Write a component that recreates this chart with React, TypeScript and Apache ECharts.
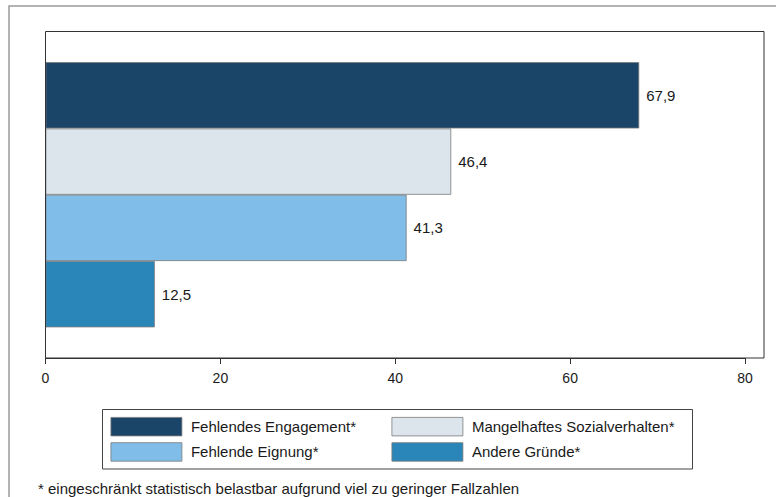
import React, { useEffect, useRef } from "react";
import * as echarts from "echarts";

const seriesNames = [
  "Fehlendes Engagement*",
  "Mangelhaftes Sozialverhalten*",
  "Fehlende Eignung*",
  "Andere Gründe*",
];
const seriesValues = [67.9, 46.4, 41.3, 12.5];
const seriesColors = ["#1b4469", "#dce5ec", "#80bde8", "#2a86b9"];
const xTicks = [0, 20, 40, 60, 80];
const footnote = "* eingeschränkt statistisch belastbar aufgrund viel zu geringer Fallzahlen";

const FONT = "'Liberation Sans', Arial, Helvetica, sans-serif";

export default function App() {
  const ref = useRef<HTMLDivElement>(null);
  useEffect(() => {
    if (!ref.current) return;
    const chart = echarts.init(ref.current, undefined, { renderer: "svg" });
    const series = seriesNames.map((name, i) => ({
      name,
      type: "bar",
      data: [seriesValues[i]],
      barWidth: 66.3,
      barGap: "0%",
      itemStyle: { color: seriesColors[i], borderColor: "#7a7a7a", borderWidth: 0.8 },
      label: {
        show: true,
        position: "right",
        distance: 7,
        fontSize: 15,
        fontFamily: FONT,
        color: "#1a1a1a",
        formatter: (p: any) => String(p.value).replace(".", ","),
      },
    }));
    const legendCommon = {
      orient: "vertical",
      top: 417,
      padding: 0,
      itemWidth: 71,
      itemHeight: 18.5,
      itemGap: 6,
      icon: "rect",
      selectedMode: false,
      itemStyle: { borderColor: "#7a7a7a", borderWidth: 0.8 },
      textStyle: { fontSize: 15, color: "#1a1a1a", fontFamily: FONT, padding: [0, 0, 0, 4] },
    };
    chart.setOption({
      animation: false,
      textStyle: { fontFamily: FONT },
      grid: { left: 45.5, right: 31, top: 31.5, bottom: 139, containLabel: false },
      xAxis: {
        type: "value",
        min: xTicks[0],
        max: xTicks[xTicks.length - 1],
        interval: 20,
        splitLine: { show: false },
        axisLine: { show: true, lineStyle: { color: "#333", width: 1 } },
        axisTick: { show: true, length: 6, lineStyle: { color: "#333" } },
        axisLabel: { fontSize: 14, color: "#1a1a1a", margin: 13, fontFamily: FONT },
      },
      yAxis: {
        type: "category",
        data: [""],
        inverse: true,
        axisLine: { show: false },
        axisTick: { show: false },
        axisLabel: { show: false },
      },
      legend: [
        { ...legendCommon, left: 110.5, data: [seriesNames[0], seriesNames[2]] },
        { ...legendCommon, left: 391.5, data: [seriesNames[1], seriesNames[3]] },
      ],
      graphic: [
        {
          type: "polyline",
          shape: { points: [[9, 497], [9, 6], [776, 6]] },
          style: { stroke: "#9a9a9a", lineWidth: 1.5, fill: "none" },
          silent: true,
        },
        {
          type: "rect",
          shape: { x: 45.5, y: 31.5, width: 718.5, height: 326.5 },
          style: { stroke: "#333", lineWidth: 1, fill: "none" },
          z: 100,
          silent: true,
        },
        {
          type: "rect",
          shape: { x: 102.5, y: 409.5, width: 590, height: 59.5 },
          style: { stroke: "#444", lineWidth: 1, fill: "none" },
          silent: true,
        },
        {
          type: "text",
          x: 38,
          y: 488,
          style: {
            text: footnote,
            fontSize: 15,
            fontFamily: FONT,
            fill: "#1a1a1a",
            textVerticalAlign: "middle",
          },
          silent: true,
        },
      ],
      series,
    });
    return () => chart.dispose();
  }, []);
  return (
    <div
      ref={ref}
      style={{ position: "fixed", left: 0, top: 0, width: 776, height: 497, background: "#fff" }}
    />
  );
}
